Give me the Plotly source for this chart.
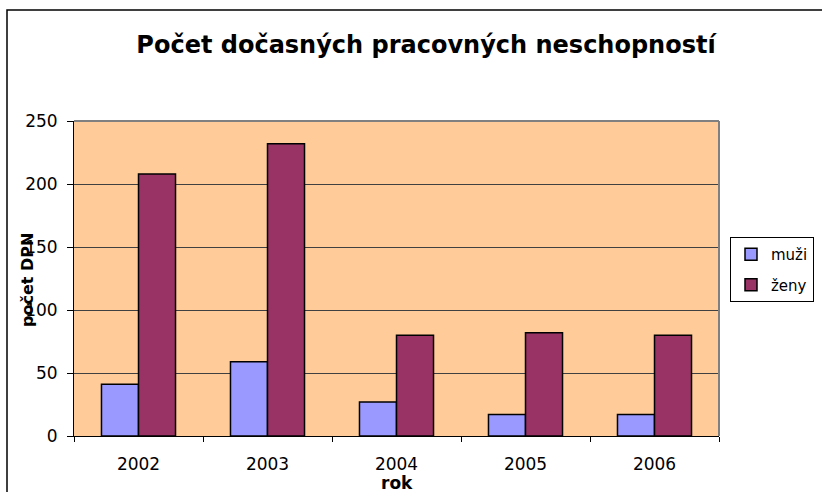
import plotly.graph_objects as go

years = ["2002", "2003", "2004", "2005", "2006"]
muzi = [41, 59, 27, 17, 17]
zeny = [208, 232, 80, 82, 80]
y_ticks = [0, 50, 100, 150, 200, 250]

FONT = "DejaVu Sans, Arial, sans-serif"

fig = go.Figure()
fig.add_trace(go.Bar(x=years, y=muzi, name="muži", legendgroup="m",
                     marker=dict(color="#9999FF", line=dict(color="black", width=1.5))))
fig.add_trace(go.Bar(x=years, y=zeny, name="ženy", legendgroup="z",
                     marker=dict(color="#993366", line=dict(color="black", width=1.5))))

L, R, T, B = 74, 103, 121, 56
W, H = 822, 492
pw, ph = W - L - R, H - T - B

def px_x(x):
    return (x - L) / pw

def px_y(y):
    return (H - B - y) / ph

fig.update_layout(
    width=W, height=H,
    margin=dict(l=L, r=R, t=T, b=B, autoexpand=False),
    paper_bgcolor="white",
    plot_bgcolor="#FFCC99",
    font=dict(family=FONT, size=16, color="black"),
    barmode="group", bargap=0.426, bargroupgap=0,
    title=dict(text="<b>Počet dočasných pracovných neschopností</b>",
               x=px_x(426), xref="paper", xanchor="center",
               y=1 - 45 / H, yanchor="middle",
               font=dict(size=24, family=FONT)),
    legend=dict(x=px_x(730), y=px_y(237), xanchor="left", yanchor="top",
                bordercolor="black", borderwidth=1, bgcolor="white",
                font=dict(size=15, family=FONT), itemwidth=30,
                tracegroupgap=8),
    showlegend=True,
    xaxis=dict(type="category", showline=True, linecolor="black", linewidth=1,
               ticks="outside", ticklen=5, tickcolor="black", tickson="boundaries",
               showgrid=False, tickfont=dict(size=17), ticklabelstandoff=13),
    yaxis=dict(range=[0, 250], tickvals=y_ticks, showline=True, linecolor="black",
               linewidth=1, ticks="outside", ticklen=6, tickcolor="black",
               showgrid=True, gridcolor="#404040", gridwidth=1,
               zeroline=False, tickfont=dict(size=17), ticklabelstandoff=6),
    shapes=[
        dict(type="line", xref="paper", yref="paper", x0=0, x1=1, y0=1, y1=1,
             line=dict(color="#808080", width=2)),
        dict(type="line", xref="paper", yref="paper", x0=1, x1=1, y0=0, y1=1,
             line=dict(color="#808080", width=2)),
        dict(type="rect", xref="paper", yref="paper",
             x0=px_x(7), x1=px_x(840), y0=px_y(10), y1=px_y(510),
             line=dict(color="black", width=1.5)),
    ],
    annotations=[
        dict(text="<b>počet DPN</b>", xref="paper", yref="paper",
             x=px_x(27), y=px_y(280), textangle=-90, showarrow=False,
             xanchor="center", yanchor="middle", font=dict(size=16, family=FONT)),
        dict(text="<b>rok</b>", xref="paper", yref="paper",
             x=px_x(397), y=px_y(483), showarrow=False,
             xanchor="center", yanchor="middle", font=dict(size=17, family=FONT)),
    ],
)

fig.write_html("out.html", config={"displayModeBar": False},
               post_script="document.body.style.margin='0';document.body.style.overflow='hidden';")
